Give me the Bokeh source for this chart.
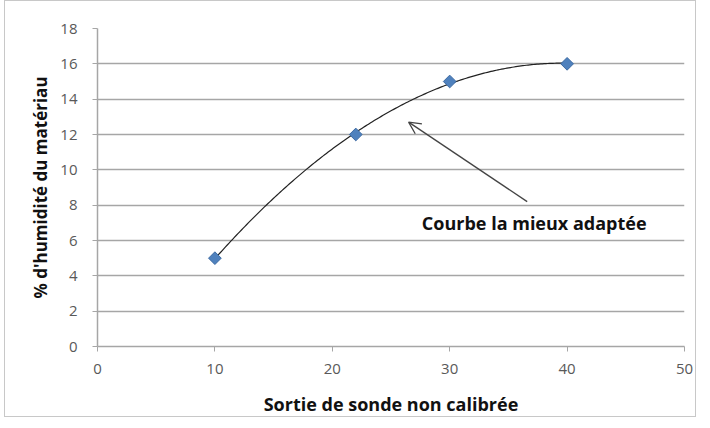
import numpy as np
from bokeh.plotting import figure
from bokeh.models import Arrow, OpenHead, Label, FixedTicker
from bokeh.embed import file_html
from bokeh.resources import INLINE

# data
x_vals = [10, 22, 30, 40]
y_vals = [5, 12, 15, 16]
x_ticks = [0, 10, 20, 30, 40, 50]
y_ticks = [0, 2, 4, 6, 8, 10, 12, 14, 16, 18]
x_title = "Sortie de sonde non calibrée"
y_title = "% d'humidité du matériau"
annotation = "Courbe la mieux adaptée"
arrow_tail = (36.6, 8.2)
arrow_head = (26.5, 12.7)

# trendline (2nd-order polynomial fit of the measured points)
coef = np.polyfit(x_vals, y_vals, 2)
xs = np.linspace(min(x_vals), max(x_vals), 200)
ys = np.polyval(coef, xs)

FONT = "Open Sans"

p = figure(width=692, height=417, x_range=(0, 50), y_range=(0, 18),
           output_backend="svg", toolbar_location=None,
           min_border_left=92, min_border_right=13, min_border_top=27, min_border_bottom=10)
p.styles = {"border": "1px solid #c8c8c8", "margin-left": "4px"}
p.outline_line_color = None
p.background_fill_color = "white"
p.border_fill_color = "white"

p.xgrid.grid_line_color = None
p.ygrid.grid_line_color = "#a6a6a6"
p.ygrid.grid_line_width = 1.5

for ax in (p.xaxis[0], p.yaxis[0]):
    ax.axis_line_color = "#a6a6a6"
    ax.axis_line_width = 1.5
    ax.major_tick_line_color = "#a6a6a6"
    ax.major_tick_out = 5
    ax.major_tick_in = 0
    ax.minor_tick_line_color = None
    ax.major_label_text_font = FONT
    ax.major_label_text_font_size = "15px"
    ax.major_label_text_color = "#595959"
    ax.axis_label_text_font = FONT
    ax.axis_label_text_font_style = "bold"
    ax.axis_label_text_color = "#111111"

p.xaxis.ticker = FixedTicker(ticks=x_ticks)
p.yaxis.ticker = FixedTicker(ticks=y_ticks)
p.xaxis.axis_label = x_title
p.yaxis.axis_label = y_title
p.xaxis.axis_label_text_font_size = "18px"
p.yaxis.axis_label_text_font_size = "17px"
p.xaxis.major_label_standoff = 12
p.yaxis.major_label_standoff = 15
p.xaxis.axis_label_standoff = 15
p.yaxis.axis_label_standoff = 5

p.line(xs, ys, line_color="#222222", line_width=1.2)
p.scatter(x_vals, y_vals, marker="square", angle=np.pi / 4, size=9,
          fill_color="#4f81bd", line_color="#3c6aa3", line_width=1)

p.add_layout(Arrow(end=OpenHead(size=12, line_color="#444444", line_width=1.3),
                   x_start=arrow_tail[0], y_start=arrow_tail[1],
                   x_end=arrow_head[0], y_end=arrow_head[1],
                   line_color="#444444", line_width=1.3))
p.add_layout(Label(x=arrow_tail[0], y=arrow_tail[1], text=annotation,
                   text_align="center", text_baseline="top", y_offset=-9, x_offset=7,
                   text_font=FONT, text_font_style="bold", text_font_size="18px",
                   text_color="#111111"))

open("out.html", "w").write(file_html(p, INLINE))
